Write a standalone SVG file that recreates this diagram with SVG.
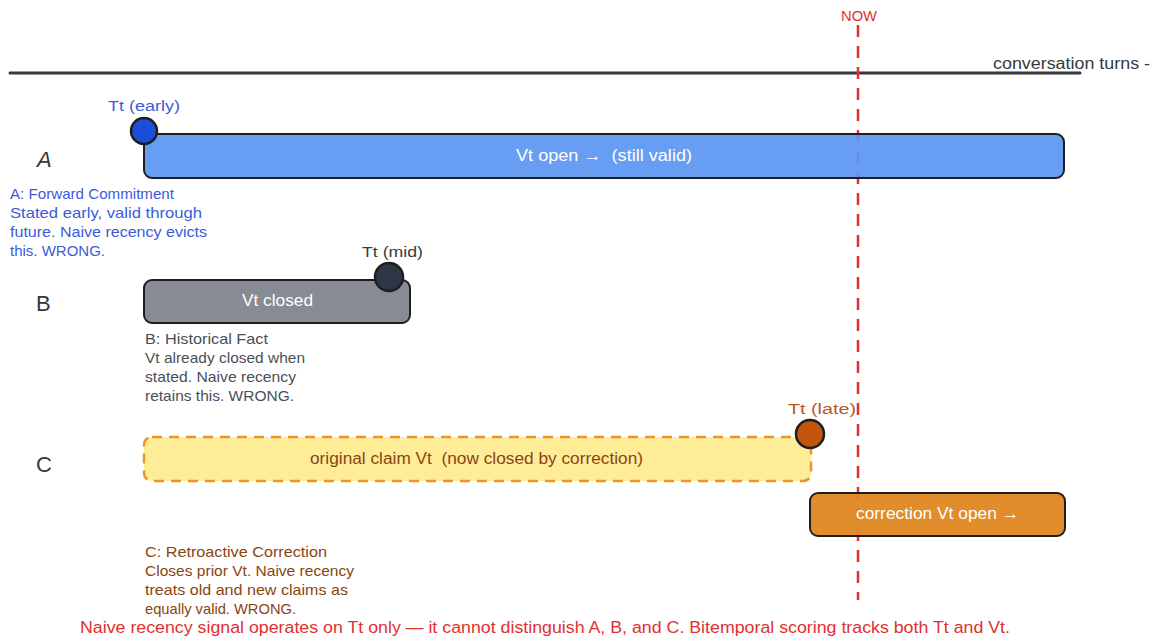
<svg xmlns="http://www.w3.org/2000/svg" width="1156" height="641" viewBox="0 0 1156 641">
  <style>
    text { font-family: "Liberation Sans", Arial, sans-serif; }
    .bar { stroke: #1e1e1e; stroke-width: 2; }
    .dot { stroke: #1e1e1e; stroke-width: 2.5; }
    .row { font-size: 22px; fill: #343a40; }
    .in { font-size: 16px; fill: #ffffff; text-anchor: middle; }
    .tt { font-size: 14px; }
    .note { font-size: 15px; }
  </style>
  <rect width="1156" height="641" fill="#ffffff"/>

  <g id="axis">
    <line x1="10" y1="73" x2="1080" y2="73" stroke="#343a40" stroke-width="3" stroke-linecap="round"/>
    <text x="993" y="69" font-size="16" fill="#343a40" textLength="157" lengthAdjust="spacingAndGlyphs">conversation turns -</text>
  </g>

  <g id="connectors">
    <line id="now-line" x1="858" y1="25" x2="858" y2="600" stroke="#e03131" stroke-width="2.5" stroke-dasharray="12 9"/>
  </g>
  <g id="now-label">
    <text x="841" y="21" font-size="15" fill="#e03131" textLength="36" lengthAdjust="spacingAndGlyphs">NOW</text>
  </g>

  <!-- Row A: forward commitment -->
  <g id="row-a">
    <text class="row" x="37" y="167" font-style="italic">A</text>
    <rect class="bar" x="144" y="134" width="920" height="44" rx="8" fill="#5b96f1" fill-opacity="0.93"/>
    <text class="in" x="516" y="161" style="text-anchor:start" textLength="176" lengthAdjust="spacingAndGlyphs">Vt open →&#160;&#160;(still valid)</text>
    <circle class="dot" cx="144" cy="131" r="13" fill="#1c4fd8"/>
    <text class="tt" x="108" y="111" fill="#3b5bdb" textLength="72" lengthAdjust="spacingAndGlyphs">Tt (early)</text>
    <text class="note" fill="#3b5bdb">
      <tspan x="10" y="199" textLength="164" lengthAdjust="spacingAndGlyphs">A: Forward Commitment</tspan>
      <tspan x="10" y="218" textLength="192" lengthAdjust="spacingAndGlyphs">Stated early, valid through</tspan>
      <tspan x="10" y="237" textLength="197" lengthAdjust="spacingAndGlyphs">future. Naive recency evicts</tspan>
      <tspan x="10" y="256" textLength="95" lengthAdjust="spacingAndGlyphs">this. WRONG.</tspan>
    </text>
  </g>

  <!-- Row B: historical fact -->
  <g id="row-b">
    <text class="row" x="36" y="311">B</text>
    <rect class="bar" x="144" y="280" width="266" height="43" rx="8" fill="#868b94"/>
    <text class="in" x="242" y="306" style="text-anchor:start" textLength="71" lengthAdjust="spacingAndGlyphs">Vt closed</text>
    <circle class="dot" cx="389" cy="277" r="14" fill="#2f3645"/>
    <text class="tt" x="362" y="257" fill="#343a40" textLength="61" lengthAdjust="spacingAndGlyphs">Tt (mid)</text>
    <text class="note" fill="#495057">
      <tspan x="145" y="344" textLength="123" lengthAdjust="spacingAndGlyphs">B: Historical Fact</tspan>
      <tspan x="145" y="363" textLength="160" lengthAdjust="spacingAndGlyphs">Vt already closed when</tspan>
      <tspan x="145" y="382" textLength="151" lengthAdjust="spacingAndGlyphs">stated. Naive recency</tspan>
      <tspan x="145" y="401" textLength="149" lengthAdjust="spacingAndGlyphs">retains this. WRONG.</tspan>
    </text>
  </g>

  <!-- Row C: retroactive correction -->
  <g id="row-c">
    <text class="row" x="36" y="472">C</text>
    <rect x="144" y="437" width="667" height="44" rx="8" fill="#ffec99" stroke="#e8962a" stroke-width="2.5" stroke-dasharray="10 7"/>
    <text x="310" y="464" font-size="16" fill="#8a4510" textLength="333" lengthAdjust="spacingAndGlyphs">original claim Vt&#160;&#160;(now closed by correction)</text>
    <circle class="dot" cx="810" cy="434" r="14" fill="#c2560c"/>
    <text class="tt" x="788" y="414" fill="#b35a24" textLength="68" lengthAdjust="spacingAndGlyphs">Tt (late)</text>
    <text class="note" fill="#8a4510">
      <tspan x="145" y="557" textLength="182" lengthAdjust="spacingAndGlyphs">C: Retroactive Correction</tspan>
      <tspan x="145" y="576" textLength="209" lengthAdjust="spacingAndGlyphs">Closes prior Vt. Naive recency</tspan>
      <tspan x="145" y="595" textLength="203" lengthAdjust="spacingAndGlyphs">treats old and new claims as</tspan>
      <tspan x="145" y="614" textLength="151" lengthAdjust="spacingAndGlyphs">equally valid. WRONG.</tspan>
    </text>
  </g>

  <g id="correction">
    <rect class="bar" x="810" y="493" width="255" height="43" rx="8" fill="#e0861e" fill-opacity="0.94"/>
    <text class="in" x="856" y="519" style="text-anchor:start" textLength="163" lengthAdjust="spacingAndGlyphs">correction Vt open →</text>
  </g>

  <g id="footer">
    <text x="80" y="633" font-size="16" fill="#e03131" textLength="930" lengthAdjust="spacingAndGlyphs">Naive recency signal operates on Tt only — it cannot distinguish A, B, and C. Bitemporal scoring tracks both Tt and Vt.</text>
  </g>
</svg>
